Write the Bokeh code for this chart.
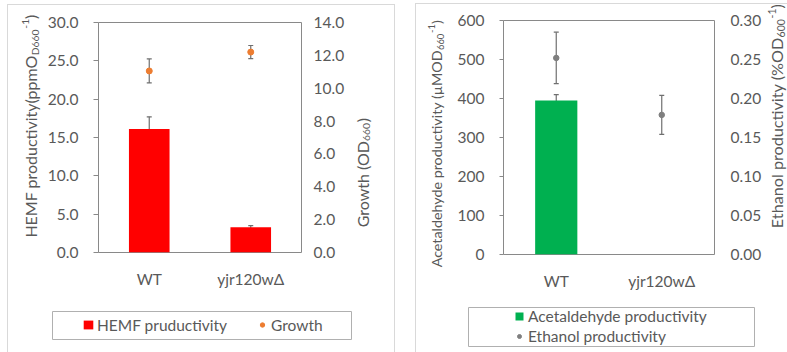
import math
from bokeh.plotting import figure
from bokeh.models import (ColumnDataSource, Range1d, LinearAxis, Whisker, TeeHead,
                          Legend, LegendItem, Label, FactorRange,
                          FixedTicker, NumeralTickFormatter)
from bokeh.layouts import row, column
from bokeh.embed import file_html
from bokeh.resources import INLINE

# ---------------- data ----------------
strains = ["WT", "yjr120wΔ"]
hemf = [16.1, 3.3]
hemf_err = [1.6, 0.2]
growth = [11.05, 12.2]
growth_err = [0.73, 0.4]
acet = [395, 0]
acet_err = [15, 0]
ethanol = [0.252, 0.179]
ethanol_err = [0.033, 0.025]

hemf_ticks = [0, 5, 10, 15, 20, 25, 30]
growth_ticks = [0, 2, 4, 6, 8, 10, 12, 14]
acet_ticks = [0, 100, 200, 300, 400, 500, 600]
eth_ticks = [0.0, 0.05, 0.10, 0.15, 0.20, 0.25, 0.30]

FONT = "Lato"
TXT = "#595959"
FRAME = "#898989"
ERR = "#6f6f6f"
BOX = "#b0b0b0"
FS = "15.5px"
NAN = float("nan")

# approximate Lato advance widths (em) for positioning rotated title pieces
W = {' ': .19, '(': .31, ')': .31, '%': .81, '-': .33, 'µ': .57,
     'A': .68, 'C': .68, 'D': .75, 'E': .57, 'F': .55, 'G': .73, 'H': .76,
     'M': .92, 'O': .80, 'a': .51, 'c': .46, 'd': .56, 'e': .52, 'h': .56,
     'i': .24, 'l': .24, 'm': .84, 'n': .56, 'o': .56, 'p': .56, 'r': .37,
     't': .34, 'u': .56, 'v': .51, 'w': .77, 'y': .51}


def tw(s, size):
    return sum(W.get(c, .58) for c in s) * size * 1.04


def blank(w, h, left=0, right=0, top=0, bottom=0, outline=None):
    f = figure(width=w, height=h, x_range=Range1d(0, w), y_range=Range1d(0, h),
               output_backend="svg", toolbar_location=None,
               x_axis_location=None, y_axis_location=None,
               min_border=0, min_border_left=left, min_border_right=right,
               min_border_top=top, min_border_bottom=bottom, frame_align=False)
    f.grid.visible = False
    f.outline_line_color = outline
    f.outline_line_width = 1
    f.background_fill_color = "white"
    f.border_fill_color = "white"
    return f


def lab(p, x, y, text, size, align):
    p.add_layout(Label(x=x, y=y, text=text, angle=math.pi / 2,
                       text_align=align, text_baseline="middle",
                       text_font=FONT, text_font_size=f"{size}px",
                       text_color=TXT))


def vtitle(p, x, y_bottom, main, size, pieces):
    """Rotated title: main text ends at the junction, small pieces follow it."""
    yj = y_bottom + tw(main, size)
    lab(p, x, yj, main, size, "right")
    y = yj
    for text, s, dx in pieces:
        lab(p, x + dx, y, text, s, "left")
        y += tw(text, s)


def style_common(p, standoff):
    p.xgrid.visible = False
    p.ygrid.visible = False
    p.outline_line_color = FRAME
    p.outline_line_width = 1
    p.background_fill_color = "white"
    p.border_fill_color = "white"
    xa = p.xaxis[0]
    xa.axis_line_color = None
    xa.major_tick_line_color = None
    xa.minor_tick_line_color = None
    xa.major_label_standoff = standoff
    xa.major_label_text_font = FONT
    xa.major_label_text_font_size = FS
    xa.major_label_text_color = TXT


def style_y(ax, standoff, ticks_out):
    ax.axis_line_color = None
    ax.minor_tick_line_color = None
    ax.major_tick_in = 0
    ax.major_tick_out = ticks_out
    ax.major_tick_line_color = FRAME if ticks_out else None
    ax.major_label_standoff = standoff
    ax.major_label_text_font = FONT
    ax.major_label_text_font_size = FS
    ax.major_label_text_color = TXT


def whisker(src, lo, hi, **kw):
    return Whisker(base="x", lower=lo, upper=hi, source=src,
                   line_color=ERR, line_width=1.2,
                   upper_head=TeeHead(size=5, line_color=ERR, line_width=1.2),
                   lower_head=TeeHead(size=5, line_color=ERR, line_width=1.2), **kw)


# ================= left chart =================
src1 = ColumnDataSource(dict(x=strains, hemf=hemf,
                             hl=[v - e for v, e in zip(hemf, hemf_err)],
                             hu=[v + e for v, e in zip(hemf, hemf_err)],
                             g=growth,
                             gl=[v - e for v, e in zip(growth, growth_err)],
                             gu=[v + e for v, e in zip(growth, growth_err)]))

H1 = 285
c1 = figure(x_range=FactorRange(*strains), y_range=Range1d(0, 30),
            width=308, height=H1, output_backend="svg", toolbar_location=None,
            min_border_left=52, min_border_right=51, min_border_top=17,
            min_border_bottom=H1 - 17 - 232)
c1.extra_y_ranges = {"growth": Range1d(0, 14)}
style_common(c1, 11)
ly = c1.left[0]
ly.ticker = FixedTicker(ticks=hemf_ticks)
ly.formatter = NumeralTickFormatter(format="0.0")
style_y(ly, 15, 5)
ry = LinearAxis(y_range_name="growth", ticker=FixedTicker(ticks=growth_ticks),
                formatter=NumeralTickFormatter(format="0.0"))
style_y(ry, 12, 0)
c1.add_layout(ry, "right")

c1.vbar(x="x", top="hemf", width=0.4, source=src1,
        fill_color="#ff0000", line_color=None)
c1.add_layout(whisker(src1, "hl", "hu"))
c1.add_layout(whisker(src1, "gl", "gu", y_range_name="growth"))
c1.scatter(x="x", y="g", source=src1, y_range_name="growth",
           size=6, fill_color="#ed7d31", line_color="#ed7d31")

t1l = blank(36, H1)
vtitle(t1l, 22, 47, "HEMF productivity(ppmO", 16,
       [("D660", 10.3, 4), ("-1", 10.3, -5.5), (")", 16, 0)])
t1r = blank(42, H1)
vtitle(t1r, 10, 60, "Growth (OD", 16,
       [("660", 10.3, 4), (")", 16, 0)])

# legend strip: its frame outline is the legend box
l1 = blank(386, 62, left=44, right=43, top=21, bottom=13, outline=BOX)
k1 = l1.vbar(x=[NAN], top=[NAN], width=1, fill_color="#ff0000", line_color=None)
k2 = l1.scatter(x=[NAN], y=[NAN], size=6, fill_color="#ed7d31", line_color="#ed7d31")
l1.add_layout(Legend(items=[LegendItem(label="HEMF pruductivity", renderers=[k1]),
                            LegendItem(label="Growth", renderers=[k2])],
                     orientation="horizontal", location=(30, 5.5), padding=0,
                     spacing=29, glyph_width=12, glyph_height=11, label_height=11,
                     label_width=130, label_standoff=3, border_line_color=None,
                     background_fill_alpha=0, label_text_font=FONT,
                     label_text_font_size=FS, label_text_color=TXT, margin=0))

col1 = column(row(t1l, c1, t1r), l1)
col1.margin = (4, 0, 0, 7)
col1.styles = {"border-top": "1px solid #d9d9d9", "border-left": "1px solid #d9d9d9",
               "border-right": "1px solid #d9d9d9"}

# ================= right chart =================
src2 = ColumnDataSource(dict(x=strains, a=acet, e=ethanol,
                             el=[v - d for v, d in zip(ethanol, ethanol_err)],
                             eu=[v + d for v, d in zip(ethanol, ethanol_err)]))
aerr = [(s, v - d, v + d) for s, v, d in zip(strains, acet, acet_err) if d > 0]
src2e = ColumnDataSource(dict(x=[t[0] for t in aerr], al=[t[1] for t in aerr],
                              au=[t[2] for t in aerr]))

H2 = 288
c2 = figure(x_range=FactorRange(*strains), y_range=Range1d(0, 600),
            width=311, height=H2, output_backend="svg", toolbar_location=None,
            min_border_left=50, min_border_right=48, min_border_top=16,
            min_border_bottom=H2 - 16 - 237)
c2.extra_y_ranges = {"eth": Range1d(0, 0.30)}
style_common(c2, 11)
ly2 = c2.left[0]
ly2.ticker = FixedTicker(ticks=acet_ticks)
ly2.formatter = NumeralTickFormatter(format="0")
style_y(ly2, 15, 4)
ry2 = LinearAxis(y_range_name="eth", ticker=FixedTicker(ticks=eth_ticks),
                 formatter=NumeralTickFormatter(format="0.00"))
style_y(ry2, 16, 0)
c2.add_layout(ry2, "right")

c2.vbar(x="x", top="a", width=0.4, source=src2,
        fill_color="#00b050", line_color=None)
c2.add_layout(whisker(src2e, "al", "au"))
c2.add_layout(whisker(src2, "el", "eu", y_range_name="eth"))
c2.scatter(x="x", y="e", source=src2, y_range_name="eth",
           size=5.5, fill_color="#7f7f7f", line_color="#7f7f7f")

t2l = blank(37, H2)
vtitle(t2l, 20, 20, "Acetaldehyde productivity (µMOD", 14.3,
       [("660", 9.4, 3.5), ("-1", 9.4, -5), (")", 14.3, 0)])
t2r = blank(24, H2)
vtitle(t2r, 12, 59, "Ethanol productivity (%OD", 16.2,
       [("600", 10.5, 4), ("-1", 10.5, -5), (")", 16.2, 0)])

l2 = blank(372, 60, left=52, right=34, top=15, bottom=6, outline=BOX)
k3 = l2.vbar(x=[NAN], top=[NAN], width=1, fill_color="#00b050", line_color=None)
k4 = l2.scatter(x=[NAN], y=[NAN], size=5.5, fill_color="#7f7f7f", line_color="#7f7f7f")
l2.add_layout(Legend(items=[LegendItem(label="Acetaldehyde productivity", renderers=[k3]),
                            LegendItem(label="Ethanol productivity", renderers=[k4])],
                     orientation="vertical", location=(46, 1), padding=0,
                     spacing=2, glyph_width=10, glyph_height=10, label_height=10,
                     label_standoff=4, border_line_color=None,
                     background_fill_alpha=0, label_text_font=FONT,
                     label_text_font_size=FS, label_text_color=TXT, margin=0))

col2 = column(row(t2l, c2, t2r), l2)
col2.margin = (3, 0, 0, 20)
col2.styles = {"border-top": "1px solid #d9d9d9", "border-left": "1px solid #d9d9d9"}

layout = row(col1, col2)
open("out.html", "w").write(file_html(layout, INLINE))
